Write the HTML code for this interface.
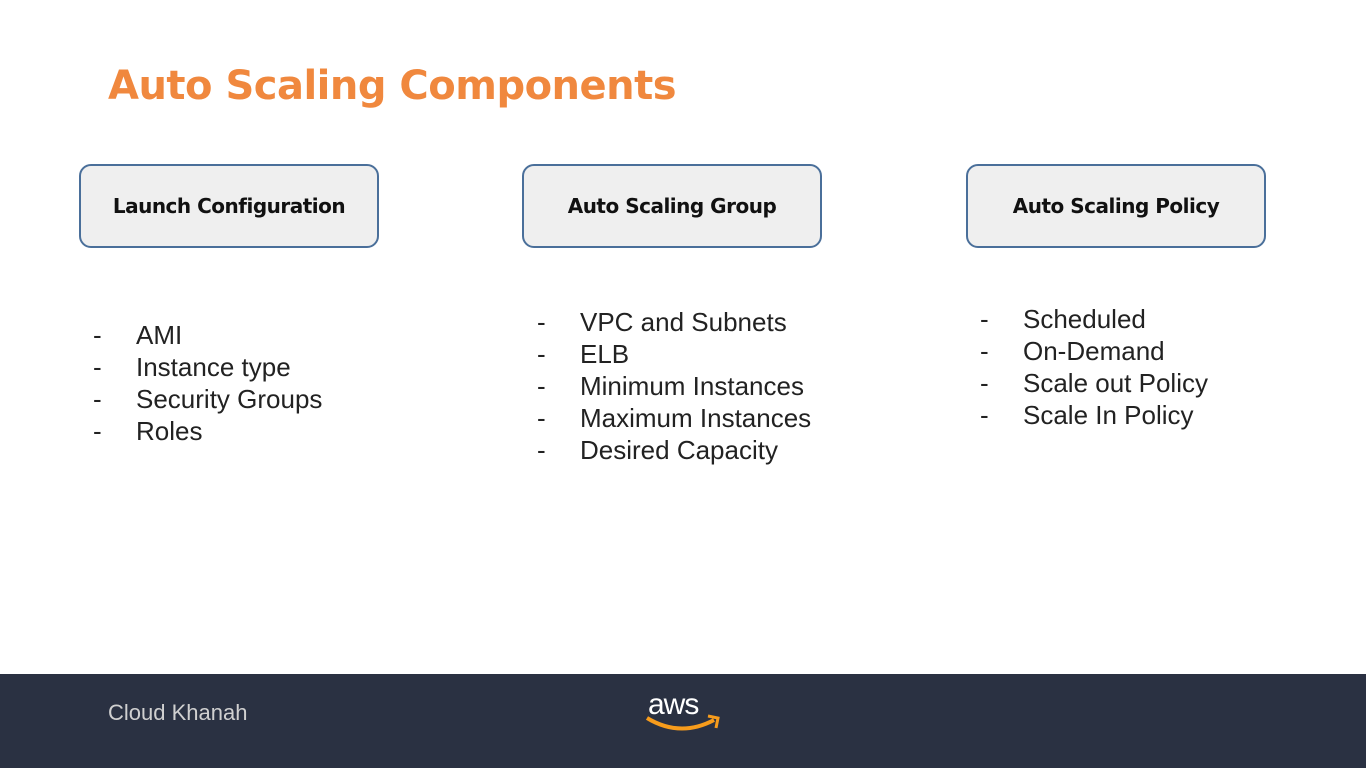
<!DOCTYPE html>
<html><head><meta charset="utf-8"><style>
body{margin:0;width:1366px;height:768px;background:#fff;position:relative;overflow:hidden;font-family:"Liberation Sans",sans-serif}
.t{position:absolute;left:108px;top:63px;font-size:40px;font-weight:bold;color:#f0883e;font-family:"DejaVu Sans","Liberation Sans",sans-serif;letter-spacing:-0.5px}
.box{position:absolute;top:164px;width:296px;height:80px;background:#efefef;border:2px solid #4a6f9a;border-radius:12px;display:flex;align-items:center;justify-content:center;font-weight:bold;font-size:20px;color:#111;font-family:"DejaVu Sans","Liberation Sans",sans-serif;letter-spacing:-0.5px}
.l{position:absolute;font-size:26px;color:#222;line-height:32px}
.l div{position:relative;padding-left:43px;white-space:nowrap}
.l div:before{content:"-";position:absolute;left:0}
.f{position:absolute;left:0;top:674px;width:1366px;height:94px;background:#2a3142}
</style></head><body>
<div class="t">Auto Scaling Components</div>
<div class="box" style="left:79px">Launch Configuration</div>
<div class="box" style="left:522px">Auto Scaling Group</div>
<div class="box" style="left:966px">Auto Scaling Policy</div>
<div class="l" style="left:93px;top:319px"><div>AMI</div><div>Instance type</div><div>Security Groups</div><div>Roles</div></div>
<div class="l" style="left:537px;top:306px"><div>VPC and Subnets</div><div>ELB</div><div>Minimum Instances</div><div>Maximum Instances</div><div>Desired Capacity</div></div>
<div class="l" style="left:980px;top:303px"><div>Scheduled</div><div>On-Demand</div><div>Scale out Policy</div><div>Scale In Policy</div></div>
<div class="f">
<div style="position:absolute;left:108px;top:26px;font-size:22px;color:#d0d0d0">Cloud Khanah</div>
<div style="position:absolute;left:648px;top:14px;font-size:30px;color:#fff;letter-spacing:-1px">aws</div>
<svg style="position:absolute;left:640px;top:36px" width="90" height="30"><path d="M7 8 Q40 28 74 10" stroke="#f79c1c" stroke-width="4" fill="none"/><path d="M68 6 L78 8 L76 18" stroke="#f79c1c" stroke-width="3" fill="none"/></svg>
</div>
</body></html>
